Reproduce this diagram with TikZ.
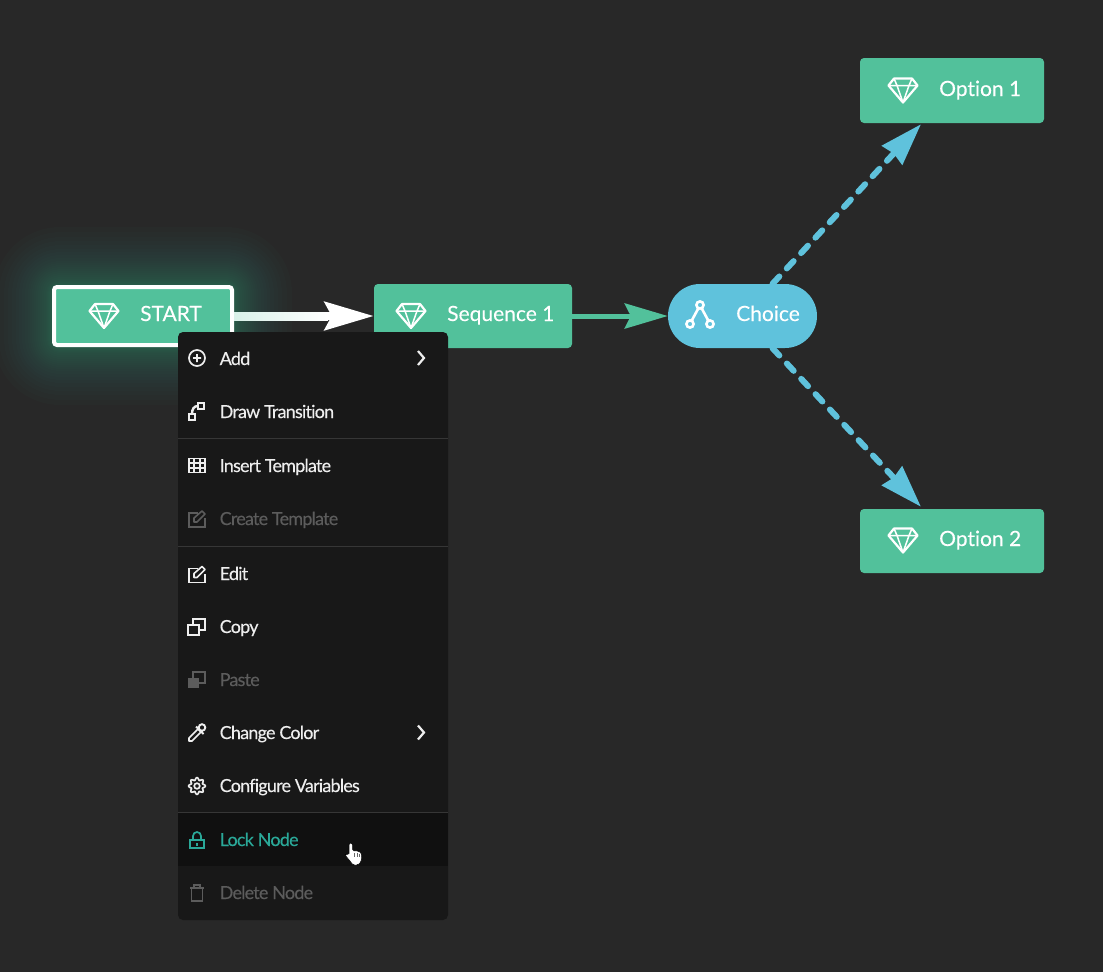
\documentclass[tikz,border=0pt]{standalone}
\usepackage{fontspec}
\setmainfont[Ligatures=NoCommon,FakeBold=0.15]{Lato}
\newfontfamily\menufont[Ligatures=NoCommon,LetterSpace=-4.4,FakeBold=0.2]{Lato}
\usetikzlibrary{arrows.meta}

\definecolor{bgdark}{HTML}{282828}
\definecolor{taskgreen}{HTML}{52C19B}
\definecolor{choiceblue}{HTML}{5FC2DC}
\definecolor{menudark}{HTML}{181818}
\definecolor{menuhover}{HTML}{101010}
\definecolor{menuline}{HTML}{363636}
\definecolor{menutext}{HTML}{EEEEEE}
\definecolor{menuoff}{HTML}{5C5C5C}
\definecolor{menulock}{HTML}{2AA898}

\begin{document}
\begin{tikzpicture}[
	x=1pt,y=-1pt,
	task/.style={rectangle,fill=taskgreen,rounded corners=4pt,minimum height=65pt,inner sep=0pt},
	startnode/.style={rectangle,fill=taskgreen,draw=white,line width=4pt,rounded corners=3pt,minimum width=178pt,minimum height=58pt,inner sep=0pt},
	choicenode/.style={rectangle,fill=choiceblue,rounded corners=32pt,minimum width=149pt,minimum height=64pt,inner sep=0pt},
	tasklabel/.style={anchor=base west,inner sep=0pt,text=white,font=\fontsize{21}{24}\selectfont},
	item/.style={anchor=base west,inner sep=0pt,text=menutext,font=\menufont\fontsize{18}{20}\selectfont},
	itemoff/.style={item,text=menuoff},
	itemlock/.style={item,text=menulock},
	arrowgreen/.style={draw=taskgreen,line width=5pt,-{Stealth[length=43pt,width=25pt,inset=6pt]}},
	arrowwhite/.style={draw=white,line width=8pt,-{Stealth[length=49pt,width=28pt,inset=7pt]}},
	arrowblue/.style={draw=choiceblue,line width=6pt,line cap=round,dash pattern=on 10pt off 11pt,-{Stealth[length=42pt,width=27pt,inset=2pt,line cap=butt]}},
	pics/gem/.style={code={
		\draw[white,line width=2.2pt,line join=round] (-9,-12) -- (9,-12) -- (14.5,-5) -- (0,12) -- (-14.5,-5) -- cycle;
		\draw[white,line width=1.5pt,line join=round] (-14.5,-5) -- (14.5,-5) (-9,-12) -- (-6,-5) -- (0,12) -- (6,-5) -- (9,-12);
	}},
	pics/branch/.style={code={
		\draw[white,line width=2.6pt] (0,0) circle (3.6) (-10,19) circle (3.6) (10,19) circle (3.6);
		\draw[white,line width=2.6pt] (-1.6,3.2) -- (-8.4,15.8) (1.6,3.2) -- (8.4,15.8);
	}},
	pics/chevron/.style={code={
		\draw[menutext,line width=2.2pt] (-3,-7) -- (3,0) -- (-3,7);
	}},
	pics/addicon/.style={code={
		\draw[menutext,line width=1.7pt] (0,0) circle (8) (-4,0) -- (4,0) (0,-4) -- (0,4);
	}},
	pics/transicon/.style={code={
		\draw[menutext,line width=2pt] (-8,2) rectangle (-2,8) (1,-9) rectangle (7,-3);
		\draw[menutext,line width=2.4pt] (-5,2) .. controls (-5,-3) and (-3,-6) .. (1,-6);
	}},
	pics/gridicon/.style={code={
		\draw[menutext,line width=1.9pt] (-8,-7) rectangle (8,7) (-8,-2.3) -- (8,-2.3) (-8,2.3) -- (8,2.3) (-2.7,-7) -- (-2.7,7) (2.7,-7) -- (2.7,7);
	}},
	pics/editicon/.style={code={
		\draw[line width=1.6pt] (1,-6) -- (-8,-6) -- (-8,8) -- (8,8) -- (8,-1);
		\draw[line width=1.6pt,line join=round] (-3,3) -- (-3,-1) -- (5,-8) -- (8,-5) -- (0,3) -- cycle;
	}},
	pics/copyicon/.style={code={
		\draw[line width=1.5pt] (-9,-2) rectangle (2,8);
		\draw[line width=1.5pt] (-4,-2) -- (-4,-8) -- (8,-8) -- (8,3) -- (2,3);
	}},
	pics/pasteicon/.style={code={
		\fill (-9,-2) rectangle (2,8);
		\draw[line width=1.5pt] (-4,-2) -- (-4,-8) -- (8,-8) -- (8,3) -- (2,3);
	}},
	pics/dropicon/.style={code={
		\draw[menutext,line width=1.7pt,line join=round] (-8,8) -- (-8,5) -- (1,-4) -- (4,-1) -- (-5,8) -- cycle;
		\draw[menutext,line width=1.9pt] (-1,-6.5) -- (6.5,1) (5,-5.5) circle (3.3);
	}},
	pics/gearicon/.style={code={
		\draw[menutext,line width=1.7pt] plot[domain=0:360,samples=65] (\x:{7.2+1.2*cos(8*\x)}) -- cycle;
		\draw[menutext,line width=1.7pt] (0,0) circle (2.8);
	}},
	pics/lockicon/.style={code={
		\draw[menulock,line width=1.7pt] (-7,0) rectangle (7,8);
		\draw[menulock,line width=1.7pt] (-4,0) -- (-4,-4) arc (180:360:4) -- (4,0);
		\fill[menulock] (-1.3,2.5) rectangle (1.3,5.5);
	}},
	pics/trashicon/.style={code={
		\draw[menuoff,line width=1.6pt] (-7,-5) -- (7,-5) (-3,-5) -- (-3,-8) -- (3,-8) -- (3,-5) (-5.5,-5) -- (-5.5,8) -- (5.5,8) -- (5.5,-5);
	}}
]

	% page and glow
	\useasboundingbox (0,0) rectangle (1103,972);
	\fill[bgdark] (0,0) rectangle (1103,972);
	\foreach \grow in {1,2,3,4,5,6,8,10,12,14,16,18,20,22,24,27,30,33,36,40,44,48,53,58} {
		\fill[taskgreen,opacity=0.018,rounded corners={\grow*1pt+8pt}] (52-\grow,285-\grow) rectangle (234+\grow,347+\grow);
	}

	% nodes
	\node[startnode] (start) at (143,316) {};
	\node[task,minimum width=198pt,minimum height=64pt] (seq) at (473,316) {};
	\node[choicenode] (choice) at (742.5,316) {};
	\node[task,minimum width=184pt] (opt1) at (952,90.5) {};
	\node[task,minimum width=184pt,minimum height=64pt] (opt2) at (952,541) {};

	\pic at (104,316) {gem};
	\pic at (411,316) {gem};
	\pic at (903,90.5) {gem};
	\pic at (903,540.5) {gem};
	\pic at (700,305) {branch};

	\node[tasklabel] (startlabel) at (140,321) {START};
	\node[tasklabel] (seqlabel) at (447,321) {Sequence 1};
	\node[tasklabel] (choicelabel) at (736,321) {Choice};
	\node[tasklabel] (opt1label) at (939,96) {Option 1};
	\node[tasklabel] (opt2label) at (939,546) {Option 2};

	% connectors
	\draw[arrowwhite] (start) -- (seq);
	\fill[left color=taskgreen!22!white,right color=white] (234,312) rectangle (328,320);
	\draw[arrowgreen] (seq) -- (choice);
	\draw[arrowblue] ([xshift=30pt]choice.north) -- ([xshift=-31pt,yshift=-1pt]opt1.south);
	\draw[arrowblue] ([xshift=30pt]choice.south) -- ([xshift=-31pt,yshift=2pt]opt2.north);

	% menu
	\fill[menudark,rounded corners=5pt] (178,332) rectangle (448,920);
	\fill[menuhover] (178,813) rectangle (448,866);
	\draw[menuline] (178,438.5) -- (448,438.5);
	\draw[menuline] (178,546.5) -- (448,546.5);
	\draw[menuline] (178,812.5) -- (448,812.5);

	\pic at (197,358) {addicon};
	\pic at (197,412) {transicon};
	\pic at (197,465.5) {gridicon};
	\pic[color=menuoff] at (197,519) {editicon};
	\pic[color=menutext] at (197,574.5) {editicon};
	\pic[color=menutext] at (197,627) {copyicon};
	\pic[color=menuoff] at (197,680) {pasteicon};
	\pic at (197,733) {dropicon};
	\pic at (197,786) {gearicon};
	\pic at (197,840) {lockicon};
	\pic at (197,893) {trashicon};
	\pic at (421,358) {chevron};
	\pic at (421,732.5) {chevron};

	\node[item] (add) at (219.5,365) {Add};
	\node[item] (trans) at (219.5,418) {Draw Transition};
	\node[item] (insert) at (219.5,472) {Insert Template};
	\node[itemoff] (create) at (219.5,525) {Create Template};
	\node[item] (edit) at (219.5,580) {Edit};
	\node[item] (copy) at (219.5,633) {Copy};
	\node[itemoff] (paste) at (219.5,686) {Paste};
	\node[item] (color) at (219.5,739) {Change Color};
	\node[item] (config) at (219.5,792) {Configure Variables};
	\node[itemlock] (lock) at (219.5,846) {Lock Node};
	\node[itemoff] (delete) at (219.5,899) {Delete Node};

	% cursor
	\filldraw[fill=white,draw=black,line width=0.5pt,rounded corners=1.5pt] (349,843) -- (352.5,843) -- (352.5,851) -- (355,850.5) -- (358,851) -- (361,852.5) -- (362,856) -- (361,862) -- (358,865) -- (353,865) -- (350,861) -- (345,855) -- (346,853.5) -- (349,855) -- cycle;
	\draw[black!60,line width=0.4pt] (354.5,853) -- (354.5,857) (357,853) -- (357,857) (359.5,854) -- (359.5,857);

\end{tikzpicture}
\end{document}
